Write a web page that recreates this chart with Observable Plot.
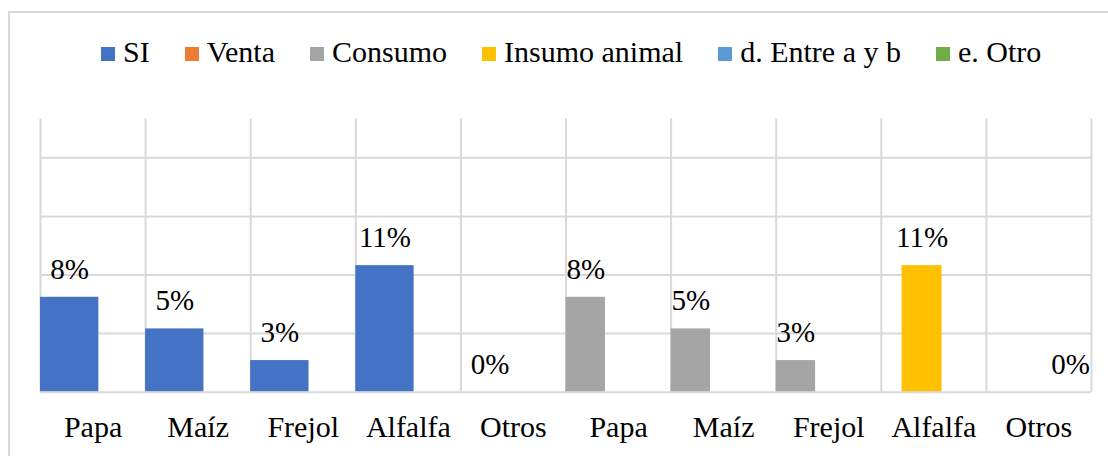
<!DOCTYPE html>
<html>
<head>
<meta charset="utf-8">
<script src="https://cdn.jsdelivr.net/npm/d3@7"></script>
<script src="https://cdn.jsdelivr.net/npm/@observablehq/plot@0.6"></script>
<style>
  html, body { margin: 0; padding: 0; background: #fff; }
  #wrap { position: relative; width: 1108px; height: 456px; overflow: hidden; background: #fff; }
  #frame { position: absolute; left: 8px; top: 11px; width: 1120px; height: 470px; border: 2px solid #D9D9D9; box-sizing: border-box; }
  #legend { position: absolute; left: 101px; top: 37px; display: flex; white-space: nowrap;
            font-family: "Liberation Serif", "Times New Roman", Times, "DejaVu Serif", serif; font-size: 30px; line-height: 30px; color: #000; }
  #legend .item { margin-right: 35px; }
  #legend .sw { display: inline-block; width: 14px; height: 14px; margin-right: 8px; vertical-align: baseline; position: relative; top: -1px; }
  #chart { position: absolute; left: 0; top: 100px; }
</style>
</head>
<body>
<div id="wrap">
  <div id="frame"></div>
  <div id="legend"></div>
  <div id="chart"></div>
</div>
<script>
// ---- data ----
const categories = ["Papa", "Maíz", "Frejol", "Alfalfa", "Otros", "Papa", "Maíz", "Frejol", "Alfalfa", "Otros"];
const seriesNames = ["SI", "Venta", "Consumo", "Insumo animal", "d. Entre a y b", "e. Otro"];
const seriesColors = ["#4472C4", "#ED7D31", "#A5A5A5", "#FFC000", "#5B9BD5", "#70AD47"];
const siValues      = [0.081, 0.054, 0.027, 0.108, 0, null, null, null, null, null];
const ventaValues   = [null, null, null, null, null, null, null, null, null, null];
const consumoValues = [null, null, null, null, null, 0.081, 0.054, 0.027, null, null];
const insumoValues  = [null, null, null, null, null, null, null, null, 0.108, null];
const entreValues   = [null, null, null, null, null, null, null, null, null, null];
const otroValues    = [null, null, null, null, null, null, null, null, null, 0];
const gridTicks = [0.05, 0.10, 0.15, 0.20];
const yMax = 0.2404;

// bar placement within each category slot (style)
const slot = {
  "SI": [0, 0.555],
  "Venta": [0, 0.375],
  "Consumo": [0, 0.375],
  "Insumo animal": [0.198, 0.578],
  "d. Entre a y b": [0.40, 0.78],
  "e. Otro": [0.61, 0.99]
};

const allValues = [siValues, ventaValues, consumoValues, insumoValues, entreValues, otroValues];
const rows = [];
allValues.forEach((vals, s) => {
  vals.forEach((v, i) => {
    if (v !== null) rows.push({i, category: categories[i], series: seriesNames[s], value: v});
  });
});
const catRows = categories.map((c, i) => ({i, c}));

// ---- legend ----
const legend = document.getElementById("legend");
seriesNames.forEach((n, k) => {
  const it = document.createElement("span");
  it.className = "item";
  const sw = document.createElement("span");
  sw.className = "sw";
  sw.style.background = seriesColors[k];
  it.appendChild(sw);
  it.appendChild(document.createTextNode(n));
  legend.appendChild(it);
});

// ---- chart ----
const font = "Liberation Serif, Times New Roman, Times, DejaVu Serif, serif";
const chart = Plot.plot({
  width: 1108,
  height: 356,
  marginLeft: 40,
  marginRight: 17,
  marginTop: 10,
  marginBottom: 64.3,
  style: {fontFamily: font, fontSize: "29px", background: "transparent", overflow: "visible"},
  x: {type: "linear", domain: [0, 10], axis: null},
  y: {domain: [0, yMax], axis: null},
  color: {domain: seriesNames, range: seriesColors},
  marks: [
    Plot.ruleY(gridTicks, {stroke: "#D9D9D9", strokeWidth: 2}),
    Plot.ruleX(d3.range(11), {y1: 0, y2: yMax, stroke: "#D9D9D9", strokeWidth: 2, insetBottom: -8.5}),
    Plot.rect(rows, {
      x1: d => d.i + slot[d.series][0],
      x2: d => d.i + slot[d.series][1],
      y1: 0,
      y2: "value",
      fill: "series"
    }),
    Plot.ruleY([0], {stroke: "#D9D9D9", strokeWidth: 2}),
    Plot.text(rows, {
      x: d => d.i + (slot[d.series][0] + slot[d.series][1]) / 2,
      y: "value",
      text: d => Math.round(d.value * 100) + "%",
      lineAnchor: "bottom",
      dy: -18.5,
      fontSize: 29,
      fill: "#000"
    }),
    Plot.text(catRows, {
      x: d => d.i + 0.5,
      y: 0,
      text: "c",
      lineAnchor: "bottom",
      dy: 44.5,
      fontSize: 30,
      fill: "#000"
    })
  ]
});
document.getElementById("chart").appendChild(chart);
</script>
</body>
</html>
